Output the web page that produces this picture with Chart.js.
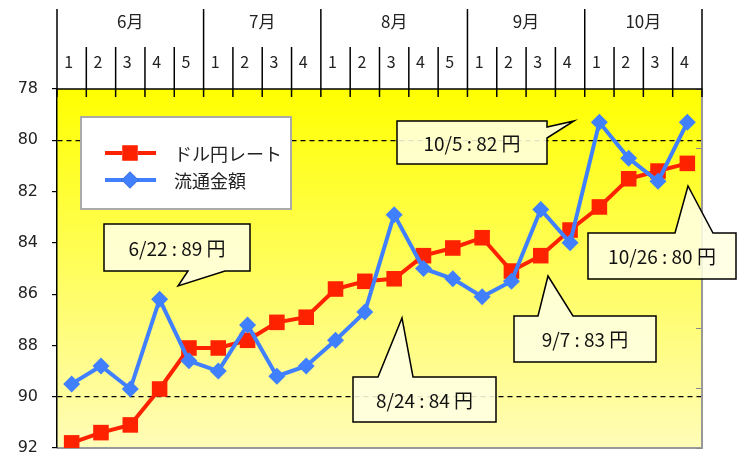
<!DOCTYPE html>
<html>
<head>
<meta charset="utf-8">
<script src="https://cdn.jsdelivr.net/npm/chart.js@4.4.0/dist/chart.umd.min.js"></script>
<style>
html,body{margin:0;padding:0;background:#fff}
#wrap{width:742px;height:455px}
</style>
</head>
<body>
<div id="wrap"><canvas id="chart" width="742" height="455"></canvas></div>
<script>
// data
const monthLabels = ['6月','7月','8月','9月','10月'];
const weeksPerMonth = [5,4,5,4,4];
const weekLabels = ['1','2','3','4','5','1','2','3','4','1','2','3','4','5','1','2','3','4','1','2','3','4'];
const yenRate = [91.8,91.4,91.1,89.7,88.1,88.1,87.8,87.1,86.9,85.8,85.5,85.4,84.5,84.2,83.8,85.1,84.5,83.5,82.6,81.5,81.2,80.9];
const volume  = [89.5,88.8,89.7,86.2,88.6,89.0,87.2,89.2,88.8,87.8,86.7,82.9,85.0,85.4,86.1,85.5,82.7,84.0,79.3,80.7,81.6,79.3];
const yTicks = [78,80,82,84,86,88,90,92];
const dashedAt = [80,90];
const seriesNames = ['ドル円レート','流通金額'];

// annotation boxes (page layout, not data)
const callouts = [
  {text:'6/22 : 89 円',  box:[104,224,250,271], side:'bottom', base:[188,225], tip:[178,286]},
  {text:'10/5 : 82 円',  box:[397,121,547,164], side:'right',  base:[127,138], tip:[574,121]},
  {text:'8/24 : 84 円',  box:[353,377,496,422], side:'top',    base:[378,413], tip:[402,318]},
  {text:'9/7 : 83 円',   box:[514,316,656,362], side:'top',    base:[538,573], tip:[548,276]},
  {text:'10/26 : 80 円', box:[588,233,736,279], side:'top',    base:[675,713], tip:[688,186]}
];
const legendBox = [81,117,291,209];
const JP = '"Noto Sans CJK JP", sans-serif';

function calloutPath(ctx, c){
  const [x1,y1,x2,y2] = c.box, [a,b] = c.base, [tx,ty] = c.tip;
  ctx.beginPath();
  ctx.moveTo(x1,y1);
  if(c.side==='top'){ ctx.lineTo(a,y1); ctx.lineTo(tx,ty); ctx.lineTo(b,y1); }
  ctx.lineTo(x2,y1);
  if(c.side==='right'){ ctx.lineTo(x2,a); ctx.lineTo(tx,ty); ctx.lineTo(x2,b); }
  ctx.lineTo(x2,y2);
  if(c.side==='bottom'){ ctx.lineTo(b,y2); ctx.lineTo(tx,ty); ctx.lineTo(a,y2); }
  ctx.lineTo(x1,y2);
  ctx.closePath();
}

const framePlugin = {
  id:'frame',
  beforeDraw(chart){
    const {ctx, chartArea:a} = chart;
    const g = ctx.createLinearGradient(0,a.top,0,a.bottom);
    g.addColorStop(0,'#ffff00');
    g.addColorStop(1,'#fffcb8');
    ctx.save();
    ctx.fillStyle = g;
    ctx.fillRect(a.left,a.top,a.right-a.left,a.bottom-a.top);
    // bottom border
    ctx.strokeStyle = '#999';
    ctx.lineWidth = 2;
    ctx.beginPath(); ctx.moveTo(a.left,a.bottom); ctx.lineTo(a.right,a.bottom); ctx.stroke();
    ctx.restore();
  },
  afterDraw(chart){
    const {ctx, chartArea:a} = chart;
    const xs = chart.scales.x;
    ctx.save();
    // header: week and month cells
    ctx.strokeStyle = '#000';
    ctx.lineWidth = 1.5;
    const starts = [0];
    weeksPerMonth.forEach(n=>starts.push(starts[starts.length-1]+n));
    for(let k=0;k<=weekLabels.length;k++){
      const x = xs.getPixelForValue(k-0.5);
      const isMonth = starts.includes(k);
      ctx.beginPath();
      ctx.moveTo(x, isMonth ? 9 : 47);
      ctx.lineTo(x, a.top+8);
      ctx.stroke();
    }
    ctx.beginPath();
    ctx.moveTo(a.left,a.top); ctx.lineTo(a.right,a.top); ctx.stroke();

    ctx.fillStyle = '#222';
    ctx.textAlign = 'center';
    ctx.textBaseline = 'middle';
    ctx.font = '16px ' + JP;
    weekLabels.forEach((w,i)=>{
      ctx.fillText(w, xs.getPixelForValue(i)-3, 62);
    });
    ctx.font = '17px ' + JP;
    monthLabels.forEach((m,i)=>{
      const x = (xs.getPixelForValue(starts[i]-0.5)+xs.getPixelForValue(starts[i+1]-0.5))/2;
      ctx.fillText(m, x, 22);
    });

    // legend
    const [lx1,ly1,lx2,ly2] = legendBox;
    ctx.fillStyle = '#fff';
    ctx.fillRect(lx1,ly1,lx2-lx1,ly2-ly1);
    ctx.strokeStyle = '#aaa';
    ctx.lineWidth = 2;
    ctx.strokeRect(lx1,ly1,lx2-lx1,ly2-ly1);
    chart.data.datasets.forEach((ds,i)=>{
      const y = 153 + i*27;
      ctx.strokeStyle = ds.borderColor;
      ctx.lineWidth = 4;
      ctx.beginPath(); ctx.moveTo(105,y); ctx.lineTo(156,y); ctx.stroke();
      Chart.helpers.drawPoint(ctx,{pointStyle:ds.pointStyle,radius:ds.pointRadius,borderWidth:0,rotation:0},130,y);
      ctx.fillStyle = ds.backgroundColor;
      ctx.fill();
      ctx.fillStyle = '#222';
      ctx.textAlign = 'left';
      ctx.font = '18px ' + JP;
      ctx.fillText(ds.label, 174, y+1);
    });

    // callouts
    callouts.forEach(c=>{
      calloutPath(ctx,c);
      ctx.fillStyle = 'rgba(255,255,226,0.88)';
      ctx.fill();
      ctx.strokeStyle = '#000';
      ctx.lineWidth = 1.5;
      ctx.stroke();
      ctx.fillStyle = '#111';
      ctx.textAlign = 'center';
      ctx.font = '19px ' + JP;
      ctx.fillText(c.text,(c.box[0]+c.box[2])/2,(c.box[1]+c.box[3])/2+1);
    });
    ctx.restore();
  }
};

new Chart(document.getElementById('chart'),{
  type:'line',
  data:{
    labels:weekLabels,
    datasets:[
      {label:seriesNames[0],data:yenRate,borderColor:'#ff2200',backgroundColor:'#ff2200',borderWidth:4,
       pointStyle:'rect',pointRadius:11,pointBorderWidth:0,order:1},
      {label:seriesNames[1],data:volume,borderColor:'#4080ff',backgroundColor:'#4080ff',borderWidth:4,
       pointStyle:'rectRot',pointRadius:8.5,pointBorderWidth:0,order:0}
    ]
  },
  options:{
    responsive:false,
    animation:false,
    devicePixelRatio:1,
    layout:{autoPadding:false,padding:{top:89,right:40,bottom:7,left:0}},
    plugins:{legend:{display:false},tooltip:{enabled:false}},
    scales:{
      x:{display:false,offset:true},
      y:{reverse:true,min:78,max:92,
         afterBuildTicks:s=>{s.ticks=yTicks.map(v=>({value:v}))},
         grid:{color:c=>dashedAt.includes(c.tick && c.tick.value)?'#000':'rgba(0,0,0,0)',
               tickColor:'#000',tickLength:5,lineWidth:1.2},
         border:{color:'#000',width:1.5,dash:c=>(c.tick && dashedAt.includes(c.tick.value))?[5,4]:[]},
         ticks:{color:'#222',font:{family:'DejaVu Sans',size:16},padding:14},
         afterFit:s=>{s.width=57; s.paddingTop=0; s.paddingBottom=0}},
      y2:{position:'right',min:0,max:6,
          ticks:{display:false,stepSize:1},
          grid:{drawOnChartArea:false,tickLength:-6,tickColor:'#888'},
          border:{color:'#999',width:2},
          afterFit:s=>{s.width=0; s.paddingTop=0; s.paddingBottom=0}}
    }
  },
  plugins:[framePlugin]
});
</script>
</body>
</html>
